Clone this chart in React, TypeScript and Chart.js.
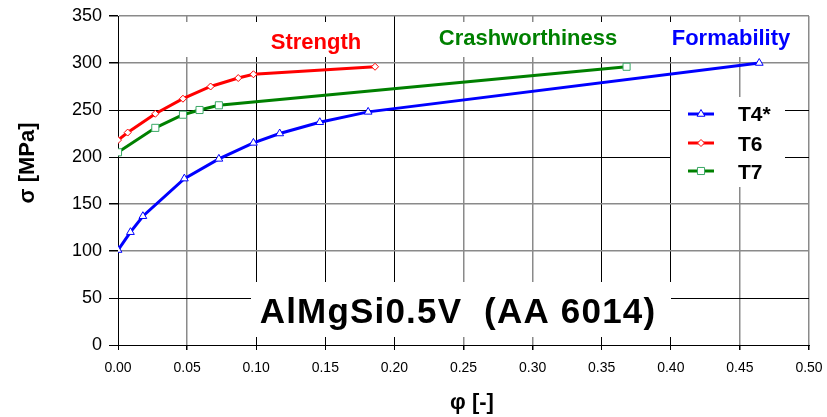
import React, { useEffect, useRef } from "react";
import { Chart, registerables } from "chart.js";

Chart.register(...registerables);

// ---- data ----
const t4Strain = [0, 0.009, 0.018, 0.048, 0.073, 0.098, 0.117, 0.146, 0.181, 0.464];
const t4Stress = [101, 120, 137, 177, 198, 215, 225, 237, 248, 300];
const t6Strain = [0, 0.007, 0.027, 0.047, 0.067, 0.087, 0.098, 0.186];
const t6Stress = [218, 226, 246, 262, 275, 284, 288, 296];
const t7Strain = [0, 0.027, 0.047, 0.059, 0.073, 0.368];
const t7Stress = [205, 231, 245, 250, 255, 296];

const seriesNames = ["T4*", "T6", "T7"];
const regionLabels = ["Strength", "Crashworthiness", "Formability"];
const alloyLabel = "AlMgSi0.5V  (AA 6014)";
const yTitle = "σ [MPa]";
const xTitle = "φ [-]";

const FONT = '"Liberation Sans", Arial, sans-serif';
const BLUE = "#0000ff";
const RED = "#ff0000";
const GREEN = "#008000";
const GREEN_MARK = "#3aa866";

const darkX = [0, 0.1, 0.15, 0.2, 0.35, 0.4];
const darkY = [0, 50, 200, 250];
const isIn = (arr: number[], v: number) => arr.some((a) => Math.abs(a - v) < 1e-6);

const toPts = (xs: number[], ys: number[]) => xs.map((x, i) => ({ x, y: ys[i] }));

function drawMarker(ctx: CanvasRenderingContext2D, style: string, x: number, y: number, r: number) {
  ctx.beginPath();
  if (style === "triangle") {
    ctx.moveTo(x, y - r);
    ctx.lineTo(x + r * 0.866, y + r * 0.5);
    ctx.lineTo(x - r * 0.866, y + r * 0.5);
    ctx.closePath();
  } else if (style === "rectRot") {
    ctx.moveTo(x, y - r);
    ctx.lineTo(x + r, y);
    ctx.lineTo(x, y + r);
    ctx.lineTo(x - r, y);
    ctx.closePath();
  } else {
    const s = r * Math.SQRT1_2;
    ctx.rect(x - s, y - s, 2 * s, 2 * s);
  }
  ctx.fill();
  ctx.stroke();
}

const overlayPlugin = {
  id: "overlay",
  beforeDatasetsDraw(chart: any) {
    const { ctx, scales } = chart;
    const x = scales.x;
    ctx.save();
    ctx.fillStyle = "#ffffff";
    // top band behind region labels
    ctx.fillRect(x.left + 1, 22, x.right - x.left - 2, 35);
    // alloy label box
    ctx.fillRect(251, 282, 420, 55);
    // legend box
    ctx.fillRect(671, 97, 114, 90);
    // separator line at 0.20 drawn through the band
    const raw = x.getPixelForValue(0.2);
    const px = Math.round(raw - 0.5) + 0.5;
    ctx.strokeStyle = "#000";
    ctx.lineWidth = 1;
    ctx.beginPath();
    ctx.moveTo(px, 21);
    ctx.lineTo(px, 58);
    ctx.stroke();
    ctx.restore();
  },
  afterDraw(chart: any) {
    const { ctx } = chart;
    ctx.save();
    // region labels
    ctx.font = `bold 22px ${FONT}`;
    ctx.textAlign = "center";
    ctx.textBaseline = "alphabetic";
    ctx.fillStyle = RED;
    ctx.fillText(regionLabels[0], 316, 49);
    ctx.fillStyle = GREEN;
    ctx.fillText(regionLabels[1], 528, 45);
    ctx.fillStyle = BLUE;
    ctx.fillText(regionLabels[2], 731, 45);

    // alloy label
    ctx.fillStyle = "#000";
    ctx.font = `bold 35px ${FONT}`;
    (ctx as any).letterSpacing = "1.2px";
    ctx.fillText(alloyLabel, 458, 323);
    (ctx as any).letterSpacing = "0px";

    // legend
    const rows = [
      { name: seriesNames[0], color: BLUE, mark: BLUE, style: "triangle", r: 4.5, ly: 114, ty: 121 },
      { name: seriesNames[1], color: RED, mark: RED, style: "rectRot", r: 3.5, ly: 143, ty: 150.5 },
      { name: seriesNames[2], color: GREEN, mark: GREEN_MARK, style: "rect", r: 5, ly: 171, ty: 179 },
    ];
    rows.forEach((row) => {
      ctx.strokeStyle = row.color;
      ctx.lineWidth = 3;
      ctx.beginPath();
      ctx.moveTo(688, row.ly);
      ctx.lineTo(714, row.ly);
      ctx.stroke();
      ctx.fillStyle = "#fff";
      ctx.strokeStyle = row.mark;
      ctx.lineWidth = 1;
      drawMarker(ctx, row.style, 701, row.ly, row.r);
      ctx.fillStyle = "#000";
      ctx.font = `bold 21px ${FONT}`;
      ctx.textAlign = "left";
      ctx.fillText(row.name, 738, row.ty);
    });

    // axis titles
    ctx.fillStyle = "#000";
    ctx.textAlign = "center";
    ctx.textBaseline = "middle";
    ctx.font = `bold 22px ${FONT}`;
    ctx.fillText(xTitle, 472, 403);
    ctx.translate(28, 163);
    ctx.rotate(-Math.PI / 2);
    ctx.fillText(yTitle, 0, 0);
    ctx.restore();
  },
};

export default function App() {
  const ref = useRef<HTMLCanvasElement | null>(null);
  useEffect(() => {
    if (!ref.current) return;
    const mk = (label: string, xs: number[], ys: number[], color: string, mark: string, style: string, r: number) => ({
      label,
      data: toPts(xs, ys),
      borderColor: color,
      backgroundColor: color,
      borderWidth: 3,
      pointStyle: style,
      pointRadius: r,
      pointBorderWidth: 1,
      pointBorderColor: mark,
      pointBackgroundColor: "#ffffff",
      tension: 0,
      fill: false,
    });
    const chart = new Chart(ref.current, {
      type: "line",
      data: {
        datasets: [
          mk(seriesNames[0], t4Strain, t4Stress, BLUE, BLUE, "triangle", 4.5),
          mk(seriesNames[1], t6Strain, t6Stress, RED, RED, "rectRot", 3.5),
          mk(seriesNames[2], t7Strain, t7Stress, GREEN, GREEN_MARK, "rect", 5),
        ] as any,
      },
      options: {
        animation: false,
        responsive: false,
        layout: { padding: { top: 16, right: 18, left: 0, bottom: 0 } },
        plugins: { legend: { display: false }, tooltip: { enabled: false } },
        scales: {
          x: {
            type: "linear",
            min: 0,
            max: 0.5,
            ticks: {
              stepSize: 0.05,
              padding: 10,
              color: "#000",
              font: { family: FONT, size: 14 },
              callback: (v: any) => Number(v).toFixed(2),
              maxRotation: 0,
            },
            grid: {
              color: (c: any) => (isIn(darkX, c.tick?.value ?? -1) ? "#000" : "#8a8a8a"),
              lineWidth: (c: any) => (isIn(darkX, c.tick?.value ?? -1) ? 1 : 1.5),
              tickColor: "#000",
              tickLength: 5,
            },
            border: { color: "#000", width: 1 },
            afterFit: (s: any) => {
              s.height = 72;
              s.paddingLeft = 0;
              s.paddingRight = 0;
            },
          } as any,
          y: {
            min: 0,
            max: 350,
            ticks: {
              stepSize: 50,
              padding: 7,
              color: "#000",
              font: { family: FONT, size: 18 },
            },
            grid: {
              color: (c: any) => (isIn(darkY, c.tick?.value ?? -1) ? "#000" : "#8a8a8a"),
              lineWidth: (c: any) => (isIn(darkY, c.tick?.value ?? -1) ? 1 : 1.5),
              tickColor: "#000",
              tickLength: 9,
            },
            border: { color: "#000", width: 1 },
            afterFit: (s: any) => {
              s.width = 118;
              s.paddingTop = 0;
              s.paddingBottom = 0;
            },
          } as any,
        },
      },
      plugins: [overlayPlugin],
    });
    return () => chart.destroy();
  }, []);
  return (
    <div style={{ position: "absolute", left: 0, top: 0, width: 827, height: 417, background: "#fff" }}>
      <canvas ref={ref} width={827} height={417} style={{ display: "block", width: 827, height: 417 }} />
    </div>
  );
}
